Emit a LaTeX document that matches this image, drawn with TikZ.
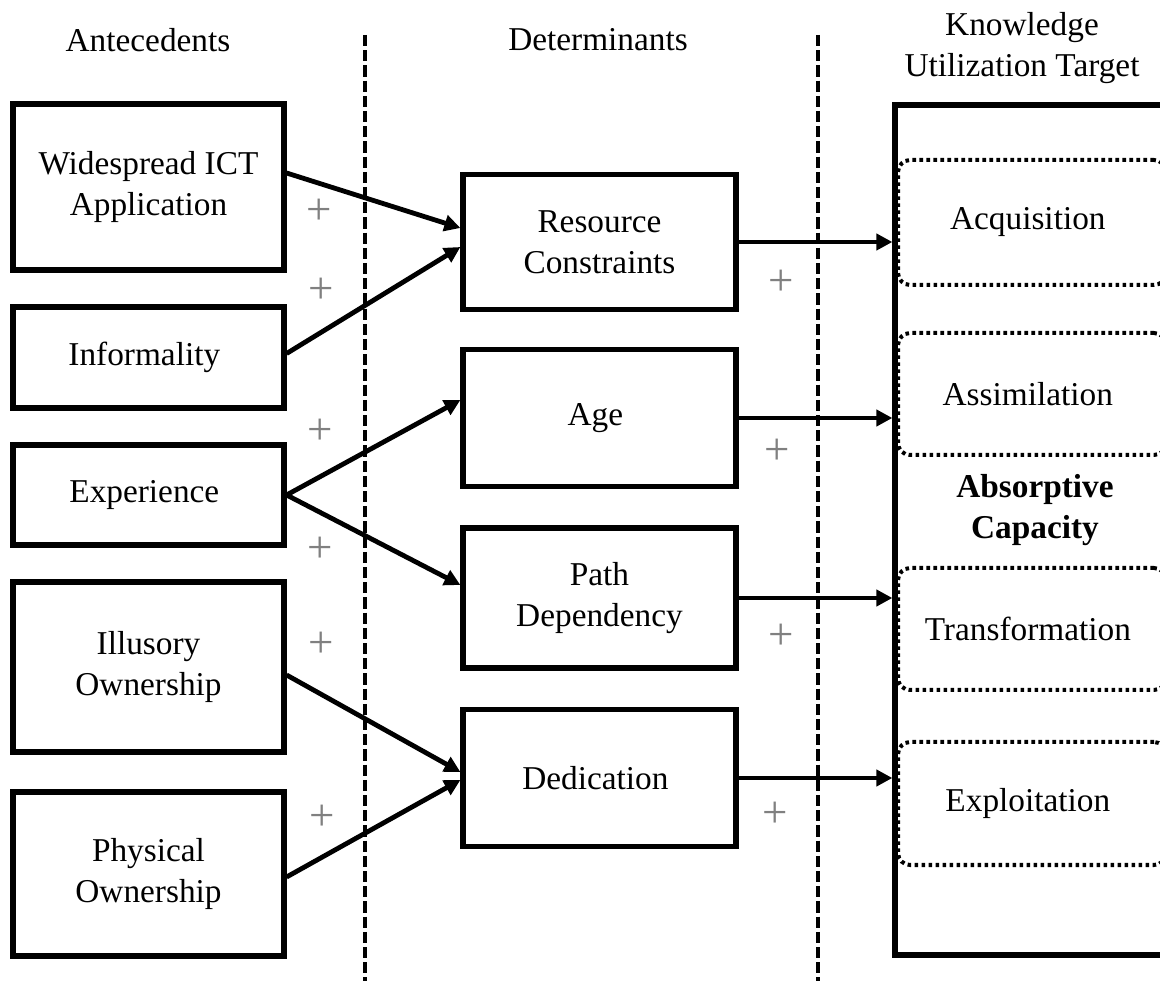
\documentclass[tikz,border=0pt]{standalone}
\usepackage{fontspec}
\setmainfont{Liberation Serif}
\usetikzlibrary{arrows.meta}

\tikzset{
  varbox/.style={draw, line width=0.13cm, align=center, inner sep=0pt},
  dimbox/.style={draw, line width=0.1cm, dash pattern=on 0.09cm off 0.085cm,
    rounded corners=0.3cm, inner sep=0pt, align=center},
  divider/.style={line width=0.11cm, dash pattern=on 0.28cm off 0.1cm},
  link/.style={line width=0.12cm, -{Triangle[length=0.4cm,width=0.4cm]}},
  plus/.style={text=black!50, font=\fontsize{32}{32}\selectfont, inner sep=0pt}
}

\begin{document}
\begin{tikzpicture}
            \path [use as bounding box, clip] (0,0) rectangle (29.000000,24.525000);
            {\fontsize{23.7}{29}\selectfont

            % Drawing column headers
            \node (hant) at (3.700000,23.525000) { Antecedents };%
            \node (hdet) at (14.950000,23.525000) { Determinants };%
            \node (htar) at (25.550000,23.325000) [align=center] { Knowledge\\Utilization Target };%

            % Drawing dividers
            \draw [divider] (9.125000,23.650000) -- (9.125000,0.000000);%
            \draw [divider] (20.450000,23.650000) -- (20.450000,0.000000);%

            % Drawing antecedent boxes
            \node (wide) at (3.712500,19.850000) [varbox, minimum width=6.775cm, minimum height=4.150cm] { Widespread ICT\\Application };%
            \node (inform) at (3.712500,15.587500) [varbox, minimum width=6.775cm, minimum height=2.525cm] { Informality };%
            \node (exper) at (3.712500,12.150000) [varbox, minimum width=6.775cm, minimum height=2.500cm] { Experience };%
            \node (illus) at (3.712500,7.850000) [varbox, minimum width=6.775cm, minimum height=4.250cm] { Illusory\\Ownership };%
            \node (phys) at (3.712500,2.675000) [varbox, minimum width=6.775cm, minimum height=4.100cm] { Physical\\Ownership };%

            % Drawing determinant boxes
            \node (res) at (14.987500,18.475000) [varbox, minimum width=6.825cm, minimum height=3.375cm] { Resource\\Constraints };%
            \node (age) at (14.987500,14.075000) [varbox, minimum width=6.825cm, minimum height=3.425cm] { Age };%
            \node (path) at (14.987500,9.575000) [varbox, minimum width=6.825cm, minimum height=3.500cm] { Path\\Dependency };%
            \node (ded) at (14.987500,5.075000) [varbox, minimum width=6.825cm, minimum height=3.425cm] { Dedication };%

            % Drawing absorptive capacity box
            \node (acap) at (25.875000,11.275000) [varbox, minimum width=7.000cm, minimum height=21.250cm] {};%
            \node (acq) at (25.800000,18.962500) [dimbox, minimum width=6.700cm, minimum height=3.125cm] { Acquisition };%
            \node (assim) at (25.800000,14.675000) [dimbox, minimum width=6.700cm, minimum height=3.050cm] { Assimilation };%
            \node (absc) at (25.875000,11.775000) [align=center] { \textbf{Absorptive}\\\textbf{Capacity} };%
            \node (trans) at (25.800000,8.800000) [dimbox, minimum width=6.700cm, minimum height=3.050cm] { Transformation };%
            \node (expl) at (25.800000,4.437500) [dimbox, minimum width=6.700cm, minimum height=3.075cm] { Exploitation };%

            % Drawing links antecedents to determinants
            \draw [link] ([yshift=0.350cm]wide.east) -- ([yshift=0.350cm]res.west);%
            \draw [link] ([yshift=0.100cm]inform.east) -- ([yshift=-0.125cm]res.west);%
            \draw [link] (exper.east) -- ([yshift=0.450cm]age.west);%
            \draw [link] (exper.east) -- ([yshift=0.325cm]path.west);%
            \draw [link] ([yshift=-0.200cm]illus.east) -- ([yshift=0.150cm]ded.west);%
            \draw [link] ([yshift=-0.075cm]phys.east) -- ([yshift=-0.050cm]ded.west);%

            % Drawing links determinants to target
            \draw [link] (res.east) -- (res.east -| acap.west);%
            \draw [link] (age.east) -- (age.east -| acap.west);%
            \draw [link] (path.east) -- (path.east -| acap.west);%
            \draw [link] (ded.east) -- (ded.east -| acap.west);%

            % Marking plus signs
            \node (p1) at (7.975000,19.225000) [plus] {+};%
            \node (p2) at (8.025000,17.250000) [plus] {+};%
            \node (p3) at (8.000000,13.725000) [plus] {+};%
            \node (p4) at (8.000000,10.775000) [plus] {+};%
            \node (p5) at (8.025000,8.400000) [plus] {+};%
            \node (p6) at (8.050000,4.075000) [plus] {+};%
            \node (p7) at (19.525000,17.450000) [plus] {+};%
            \node (p8) at (19.425000,13.225000) [plus] {+};%
            \node (p9) at (19.525000,8.600000) [plus] {+};%
            \node (p10) at (19.375000,4.150000) [plus] {+};%
            }
        \end{tikzpicture}
\end{document}
